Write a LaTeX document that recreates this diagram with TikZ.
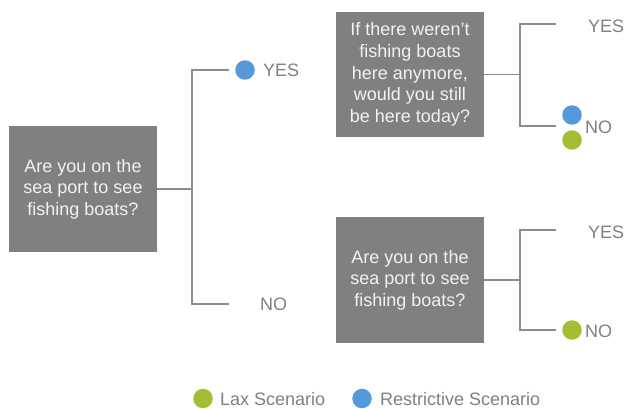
\documentclass[tikz,border=0pt]{standalone}
\usepackage{fontspec}
\setmainfont{Liberation Sans}
\usetikzlibrary{positioning}
\definecolor{boxgray}{RGB}{128,128,128}
\definecolor{boxtext}{RGB}{242,242,242}
\definecolor{linegray}{RGB}{140,140,140}
\definecolor{labelgray}{RGB}{128,128,128}
\definecolor{laxgreen}{RGB}{162,190,52}
\definecolor{restblue}{RGB}{86,152,218}
\begin{document}
\begin{tikzpicture}[x=1pt,y=-1pt,
    qbox/.style={fill=boxgray,text=boxtext,align=center,minimum width=148pt,
        minimum height=126pt,inner sep=0pt,font=\fontsize{18}{21.6}\selectfont},
    branch/.style={draw=linegray,line width=1.4pt},
    answer/.style={anchor=west,inner sep=0pt,text=labelgray,font=\fontsize{18}{21.6}\selectfont},
    dot/.style={circle,fill=#1,minimum size=19.5pt,inner sep=0pt}]
    \useasboundingbox (0,0) rectangle (624,409);
    %% Questions
    \node[qbox] (q1) at (83,189) {Are you on the\\sea port to see\\fishing boats?};
    \node[qbox,minimum height=125pt] (q2) at (410,74.5) {If there weren’t\\fishing boats\\here anymore,\\would you still\\be here today?};
    \node[qbox] (q3) at (410,280) {Are you on the\\sea port to see\\fishing boats?};
    %% First split
    \coordinate (f1) at (192,189);
    \coordinate (y1) at (229,70);
    \coordinate (n1) at (229,304);
    \draw[branch] (q1.east) -- (f1);
    \draw[branch] (y1) -- (y1 -| f1) -- (n1 -| f1) -- (n1);
    \node[dot=restblue] (d1) at (245,70) {};
    \node[answer] (a1) at (263,70) {YES};
    \node[answer] (a2) at (260,304) {NO};
    %% Second split
    \coordinate (f2) at (520,74.5);
    \coordinate (y2) at (556,24);
    \coordinate (n2) at (556,126);
    \draw[branch] (q2.east) -- (f2);
    \draw[branch] (y2) -- (y2 -| f2) -- (n2 -| f2) -- (n2);
    \node[answer] (a3) at (588,26) {YES};
    \node[dot=restblue] (d2) at (572,115) {};
    \node[dot=laxgreen] (d3) at (572,140) {};
    \node[answer] (a4) at (585,127) {NO};
    %% Third split
    \coordinate (f3) at (520,280);
    \coordinate (y3) at (556,230);
    \coordinate (n3) at (556,330);
    \draw[branch] (q3.east) -- (f3);
    \draw[branch] (y3) -- (y3 -| f3) -- (n3 -| f3) -- (n3);
    \node[answer] (a5) at (588,232) {YES};
    \node[dot=laxgreen] (d4) at (572,330) {};
    \node[answer] (a6) at (585,331) {NO};
    %% Legend
    \node[dot=laxgreen] (l1) at (203,398.5) {};
    \node[answer] (l1t) at (220,399) {Lax Scenario};
    \node[dot=restblue] (l2) at (362,398.5) {};
    \node[answer] (l2t) at (380,399) {Restrictive Scenario};
\end{tikzpicture}
\end{document}
